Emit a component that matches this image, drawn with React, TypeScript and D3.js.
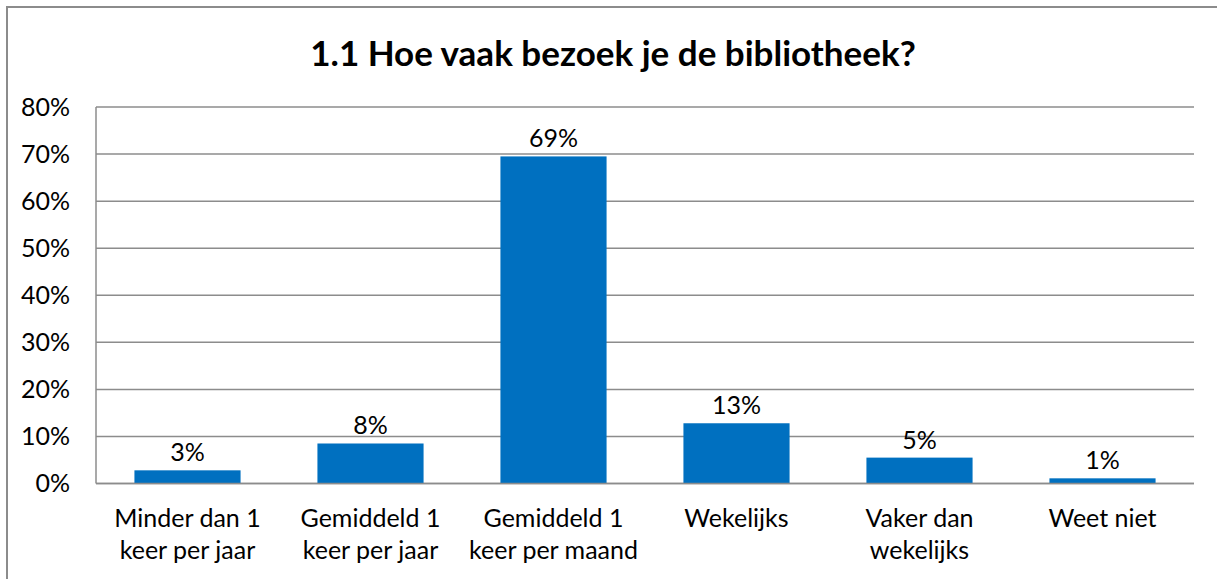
import React from "react";
import * as d3 from "d3";

const categories: string[][] = [
  ["Minder dan 1", "keer per jaar"],
  ["Gemiddeld 1", "keer per jaar"],
  ["Gemiddeld 1", "keer per maand"],
  ["Wekelijks"],
  ["Vaker dan", "wekelijks"],
  ["Weet niet"],
];
const values: number[] = [2.8, 8.5, 69.5, 12.8, 5.5, 1.1];
const valueLabels: string[] = ["3%", "8%", "69%", "13%", "5%", "1%"];
const yTicks: number[] = [0, 10, 20, 30, 40, 50, 60, 70, 80];
const title = "1.1 Hoe vaak bezoek je de bibliotheek?";

const W = 1217;
const H = 579;
const FONT = "Lato, 'Open Sans', sans-serif";
const GRID = "#8c8c8c";
const BAR = "#0070C0";

export default function App() {
  const x0 = 96;
  const x1 = 1194;
  const yTop = 107;
  const yBot = 483.5;
  const idx = categories.map((_, i) => String(i));
  const x = d3.scaleBand<string>().domain(idx).range([x0, x1]).paddingInner(0.42).paddingOuter(0.21);
  const y = d3.scaleLinear().domain([0, 80]).range([yBot, yTop]);

  return (
    <svg width={W} height={H} style={{ position: "absolute", left: 0, top: 0, background: "#fff" }}>
      <rect x={7} y={7} width={W + 10} height={H + 10} fill="#fff" stroke={GRID} strokeWidth={2} />
      <text x={613} y={66} textAnchor="middle" fontFamily={FONT} fontWeight={700} fontSize={35} fill="#000">
        {title}
      </text>
      {yTicks.map((t) => (
        <g key={t}>
          <line x1={x0} x2={x1} y1={y(t)} y2={y(t)} stroke={GRID} strokeWidth={1.5} />
          <text x={70} y={y(t)} dy="0.35em" textAnchor="end" fontFamily={FONT} fontSize={25} fill="#000">
            {t}%
          </text>
        </g>
      ))}
      <line x1={x0} x2={x0} y1={yTop} y2={yBot} stroke={GRID} strokeWidth={1.5} />
      {values.map((v, i) => (
        <g key={i}>
          <rect x={x(String(i))} y={y(v)} width={x.bandwidth()} height={yBot - y(v)} fill={BAR} />
          <text
            x={(x(String(i)) as number) + x.bandwidth() / 2}
            y={y(v) - 9}
            textAnchor="middle"
            fontFamily={FONT}
            fontSize={25}
            fill="#000"
          >
            {valueLabels[i]}
          </text>
          {categories[i].map((line, j) => (
            <text
              key={j}
              x={(x(String(i)) as number) + x.bandwidth() / 2}
              y={518 + j * 32}
              dy="0.35em"
              textAnchor="middle"
              fontFamily={FONT}
              fontSize={25}
              fill="#000"
            >
              {line}
            </text>
          ))}
        </g>
      ))}
      <line x1={x0} x2={x1} y1={yBot} y2={yBot} stroke={GRID} strokeWidth={1.5} />
    </svg>
  );
}
